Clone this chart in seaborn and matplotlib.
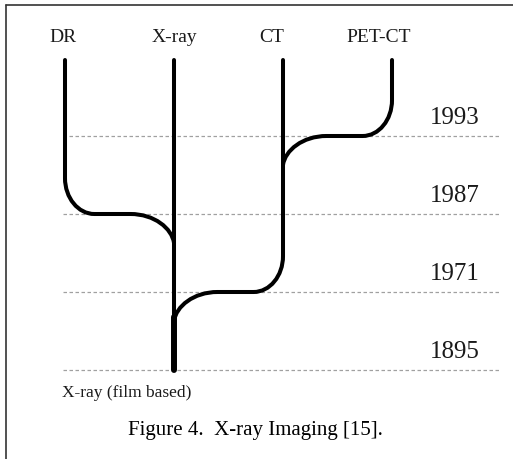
import numpy as np
import pandas as pd
import seaborn as sns
import matplotlib
matplotlib.use("Agg")
import matplotlib.pyplot as plt
from matplotlib.path import Path
from matplotlib.patches import PathPatch
from matplotlib.lines import Line2D

# ---------------- data ----------------
branches = ["DR", "X-ray", "CT", "PET-CT"]
parents = ["X-ray", None, "X-ray", "CT"]
branch_years = [1987, 1895, 1971, 1993]
years = [1895, 1971, 1987, 1993]
year_labels = ["1895", "1971", "1987", "1993"]
root_label = "X-ray (film based)"
caption = "Figure 4.  X-ray Imaging [15]."

# ---------------- layout ----------------
W, H, DPI = 513, 459, 100
X0, DX = 65, 109      # pixel x of first column, column spacing
Y0, DY = 370, 78      # pixel y of first year level, level spacing
TOP = 3.97            # top of the stems (level units)
START = 0.46          # where a branch leaves its own stem (above its level)
JOIN = 0.37           # where a branch meets its parent (below its level)
R1 = 0.27             # horizontal radius of the first bend
R2 = 0.40             # horizontal radius of the second bend
K = 0.448             # bezier quarter-ellipse factor (1 - 0.552)
LW = 2.9
LW_TRUNK = 4.3
label_dx = [-0.02, 0.0, -0.10, -0.12]

sns.set_theme(style="white")
plt.rcParams["font.family"] = ["Liberation Serif", "DejaVu Serif"]

fig = plt.figure(figsize=(W / DPI, H / DPI), dpi=DPI)
ax = fig.add_axes([0, 0, 1, 1])
ax.set_xlim((0 - X0) / DX, (W - X0) / DX)
ax.set_ylim((Y0 - H) / DY, Y0 / DY)
ax.axis("off")


def px(xp, yp):
    return (xp - X0) / DX, (Y0 - yp) / DY


level = {y: i for i, y in enumerate(years)}

# dashed year lines
xa, _ = px(63, 0)
xb, _ = px(500, 0)
ax.hlines([level[y] for y in years], xa, xb, colors="#a0a0a0",
          linestyles=(0, (2.8, 2.0)), lw=0.9, zorder=1)

# vertical stems
rows = []
for i, (b, p, y) in enumerate(zip(branches, parents, branch_years)):
    L = level[y]
    bottom = L if p is None else L + START
    rows.append(dict(branch=b, x=i, y=TOP))
    rows.append(dict(branch=b, x=i, y=bottom))
stems = pd.DataFrame(rows)
sns.lineplot(data=stems, x="x", y="y", units="branch", estimator=None,
             sort=False, color="black", lw=LW, solid_capstyle="round",
             legend=False, ax=ax, zorder=3)

# connectors into the parent column
junctions = {}
for i, (b, p, y) in enumerate(zip(branches, parents, branch_years)):
    if p is None:
        continue
    c = i
    pi = branches.index(p)
    d = np.sign(pi - c)
    L = level[y]
    verts = [(c, L + START),
             (c, L + START * K), (c + d * R1 * K, L), (c + d * R1, L),
             (pi - d * R2, L),
             (pi - d * R2 * K, L), (pi - d * 0.02, L - JOIN * 0.5), (pi, L - JOIN)]
    codes = [Path.MOVETO, Path.CURVE4, Path.CURVE4, Path.CURVE4,
             Path.LINETO, Path.CURVE4, Path.CURVE4, Path.CURVE4]
    ax.add_patch(PathPatch(Path(verts, codes), fill=False, lw=LW,
                           edgecolor="black", capstyle="round",
                           joinstyle="round", zorder=3))
    junctions.setdefault(pi, []).append(L - JOIN)

# thicker root trunk below the first junction
root = parents.index(None)
root_level = level[branch_years[root]]
trunk_top = min(junctions[root]) + 0.05
ax.plot([root, root], [root_level, trunk_top], color="black", lw=LW_TRUNK,
        solid_capstyle="round", zorder=3)

# branch labels
_, ylab = px(0, 42)
for i, b in enumerate(branches):
    ax.text(i + label_dx[i], ylab, b, ha="center", va="baseline",
            fontsize=14, color="#1a1a1a")

# year labels
xyr, _ = px(480, 0)
for y, lab in zip(years, year_labels):
    ax.text(xyr, level[y] + 12.5 / DY, lab, ha="right", va="baseline",
            fontsize=18, color="#1a1a1a")

# root label
xr, yr = px(62, 397)
ax.text(xr, yr, root_label, ha="left", va="baseline", fontsize=12.5,
        color="#1a1a1a")

# caption
fig.text(255 / W, 1 - 435 / H, caption, ha="center", va="baseline",
         fontsize=15, color="black")

# frame (left and top edges)
fig.add_artist(Line2D([5.5 / W, 5.5 / W], [0, 1 - 4.5 / H], color="#333333", lw=1.2))
fig.add_artist(Line2D([5.5 / W, 1], [1 - 4.5 / H, 1 - 4.5 / H], color="#333333", lw=1.2))

fig.savefig("out.png", dpi=DPI)
